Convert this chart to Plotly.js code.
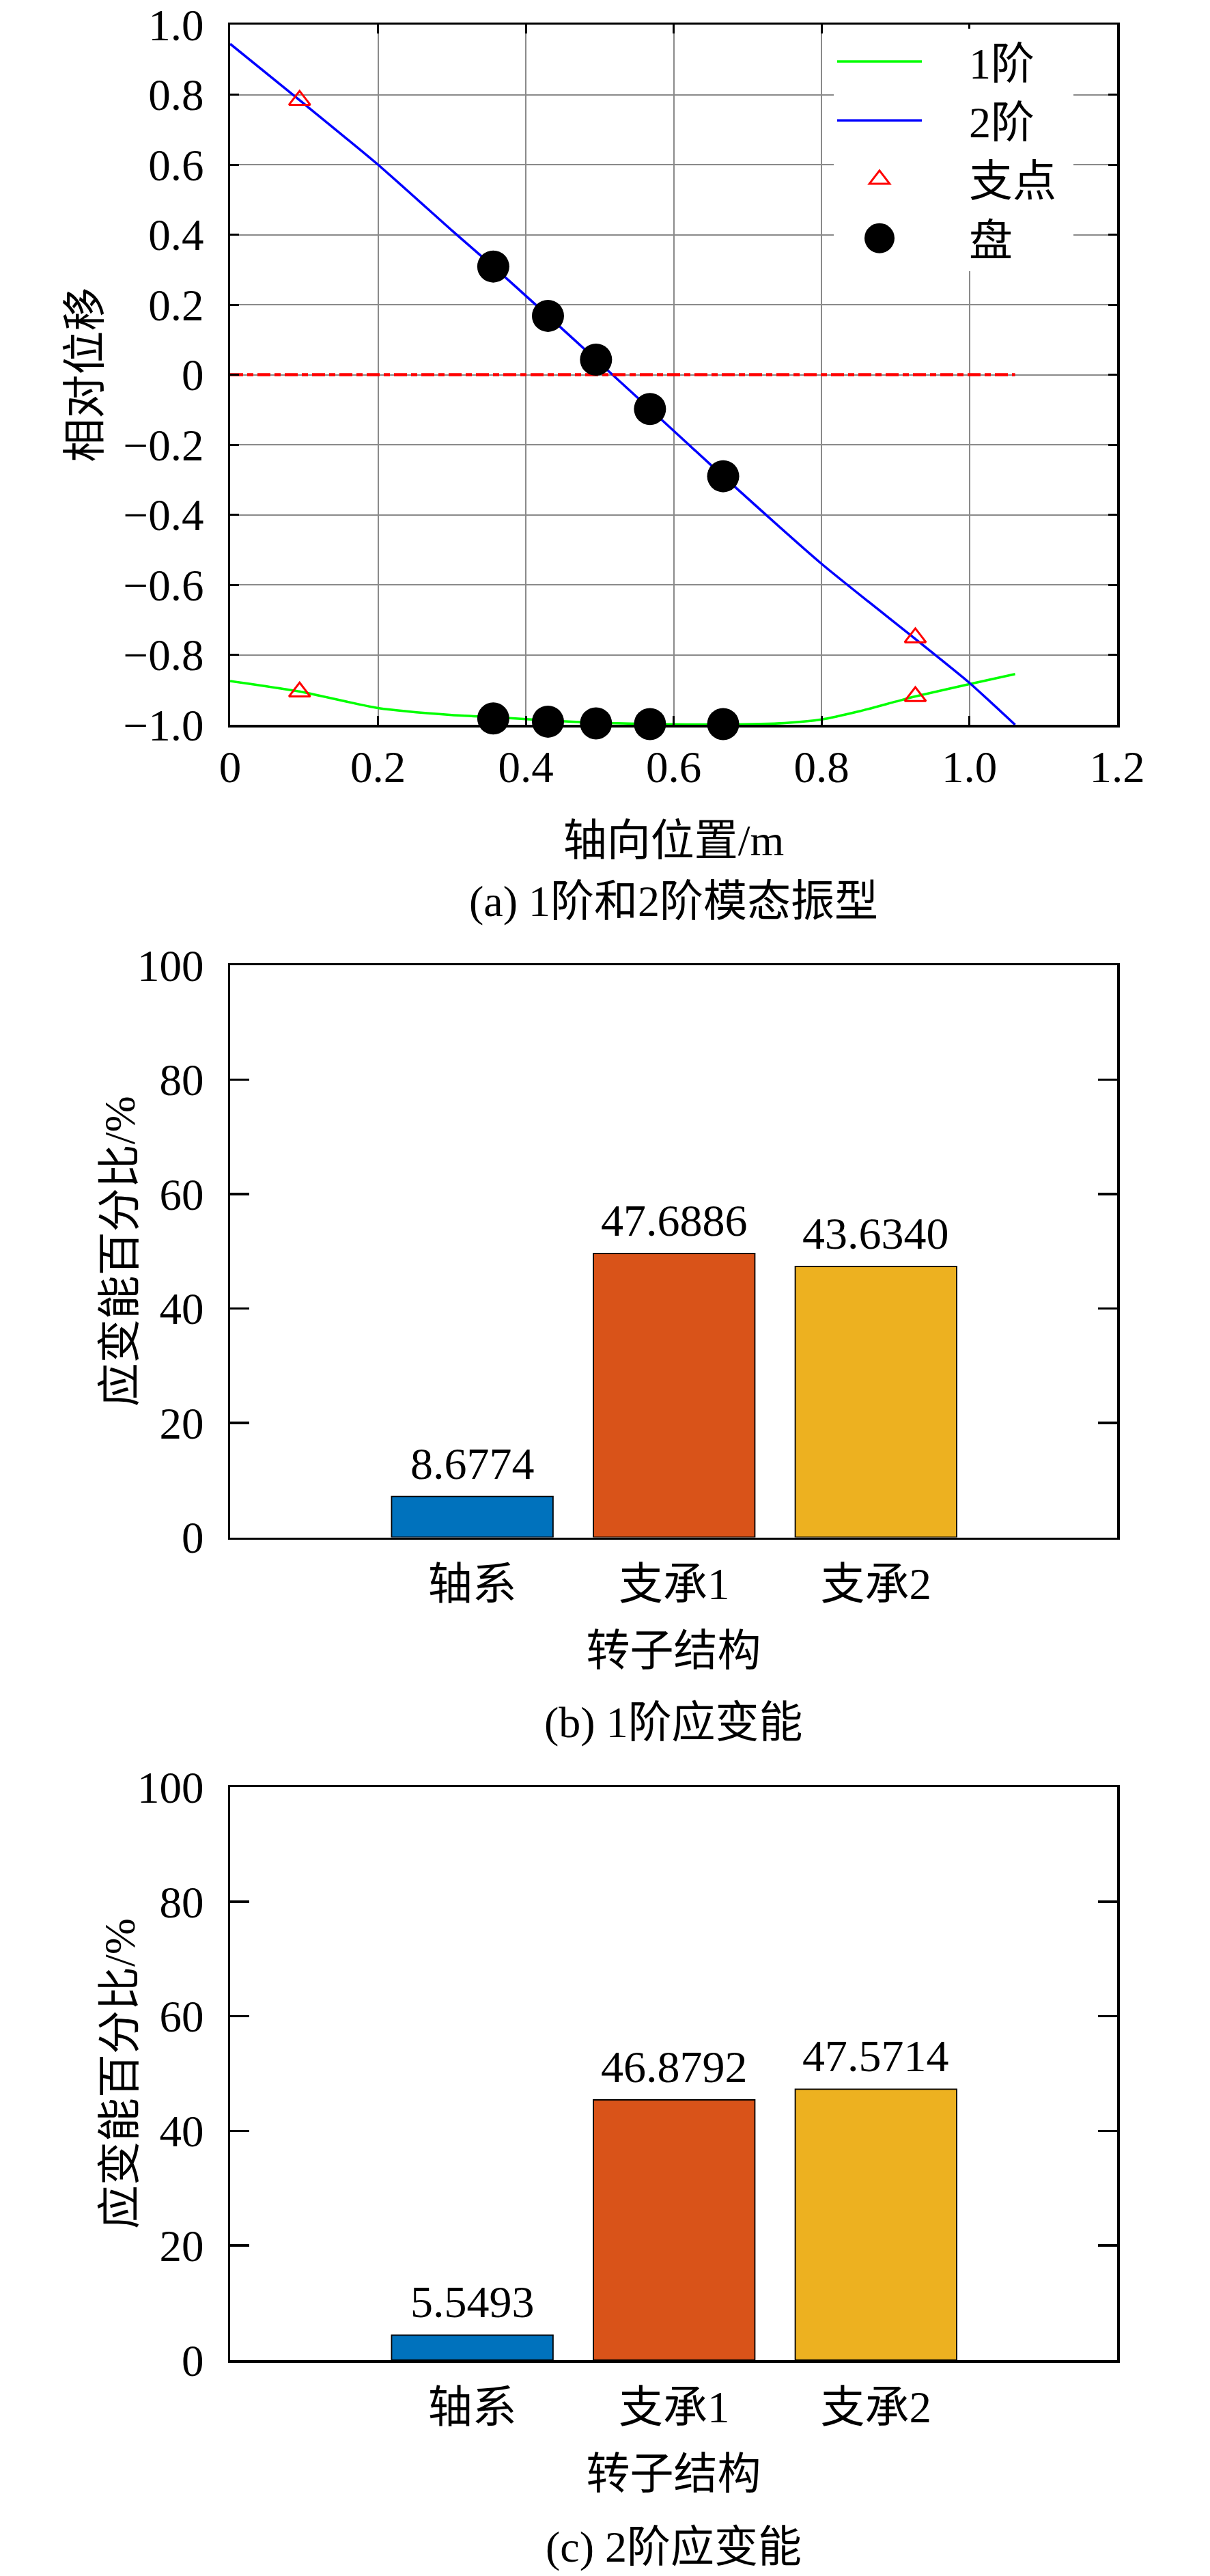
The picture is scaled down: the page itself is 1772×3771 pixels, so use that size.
<!DOCTYPE html>
<html><head><meta charset="utf-8">
<script src="https://cdn.plot.ly/plotly-3.0.1.min.js"></script>
<style>html,body{margin:0;padding:0;background:#fff;} #chart{width:1772px;height:3771px;}</style>
</head><body><div id="chart"></div>
<script>
// ---------- (a) mode shapes ----------
const mode1X = [0, 0.094, 0.2, 0.3, 0.356, 0.43, 0.495, 0.568, 0.667, 0.75, 0.8, 0.85, 0.9, 0.927, 1.0, 1.062];
const mode1Y = [-0.875, -0.905, -0.952, -0.972, -0.978, -0.988, -0.994, -0.998, -0.999, -0.995, -0.985, -0.962, -0.934, -0.919, -0.884, -0.855];
const mode2X = [0, 0.094, 0.2, 0.3, 0.356, 0.43, 0.495, 0.568, 0.667, 0.8, 0.927, 1.0, 1.062];
const mode2Y = [0.945, 0.784, 0.600, 0.412, 0.309, 0.168, 0.043, -0.098, -0.290, -0.540, -0.755, -0.880, -1.000];
const baseX = [0, 1.062];
const baseY = [0, 0];
const supportX = [0.094, 0.927, 0.094, 0.927];
const supportY = [0.784, -0.751, -0.906, -0.919];
const diskX = [0.356, 0.430, 0.495, 0.568, 0.667, 0.356, 0.430, 0.495, 0.568, 0.667];
const diskY = [0.309, 0.168, 0.043, -0.098, -0.290, -0.982, -0.991, -0.996, -0.998, -0.998];
const xTickVals = [0, 0.2, 0.4, 0.6, 0.8, 1.0, 1.2];
const xTickText = ['0', '0.2', '0.4', '0.6', '0.8', '1.0', '1.2'];
const yTickVals = [-1, -0.8, -0.6, -0.4, -0.2, 0, 0.2, 0.4, 0.6, 0.8, 1.0];
const yTickText = ['\u22121.0', '\u22120.8', '\u22120.6', '\u22120.4', '\u22120.2', '0', '0.2', '0.4', '0.6', '0.8', '1.0'];

// ---------- (b) / (c) strain energy ----------
const categories = ['轴系', '支承1', '支承2'];
const energy1 = [7.14, 49.63, 47.36];
const energy1Labels = ['8.6774', '47.6886', '43.6340'];
const energy2 = [4.37, 45.41, 47.28];
const energy2Labels = ['5.5493', '46.8792', '47.5714'];
const barColors = ['#0072BD', '#D95319', '#EDB120'];
const pctTicks = [0, 20, 40, 60, 80, 100];

const FONT = 'Liberation Serif, Times New Roman, Noto Sans CJK SC, serif';
const FS = 65;
const W = 1772, H = 3771;
const px2x = p => p / W;
const px2y = p => 1 - p / H;

const traces = [
  {x: mode1X, y: mode1Y, name: '1阶', mode: 'lines', type: 'scatter', line: {color: '#00ff00', width: 3.5, shape: 'spline', smoothing: 0.6}, xaxis: 'x', yaxis: 'y'},
  {x: mode2X, y: mode2Y, name: '2阶', mode: 'lines', type: 'scatter', line: {color: '#0000ff', width: 3.5, shape: 'spline', smoothing: 0.6}, xaxis: 'x', yaxis: 'y'},
  {x: baseX, y: baseY, name: 'base', mode: 'lines', type: 'scatter', showlegend: false, line: {color: '#ff0000', width: 4.5, dash: '19px,6px,9px,6px'}, xaxis: 'x', yaxis: 'y'},
  {x: supportX, y: supportY, name: '支点', mode: 'markers', type: 'scatter', cliponaxis: false,
   marker: {symbol: 'triangle-up-open', size: 27, color: '#ff0000', line: {color: '#ff0000', width: 3}}, xaxis: 'x', yaxis: 'y'},
  {x: diskX, y: diskY, name: '盘', mode: 'markers', type: 'scatter', cliponaxis: false,
   marker: {symbol: 'circle', size: 47, color: '#000000', line: {width: 0}}, xaxis: 'x', yaxis: 'y'},
  {x: categories, y: energy1, type: 'bar', showlegend: false, width: 0.8,
   marker: {color: barColors, line: {color: '#000', width: 1.8}}, xaxis: 'x2', yaxis: 'y2', hoverinfo: 'none'},
  {x: categories, y: energy2, type: 'bar', showlegend: false, width: 0.8,
   marker: {color: barColors, line: {color: '#000', width: 1.8}}, xaxis: 'x3', yaxis: 'y3', hoverinfo: 'none'}
];

const tickFont = {family: FONT, size: FS, color: '#000'};
const titleFont = {family: FONT, size: 64, color: '#000'};

const dom = [px2x(337), px2x(1636)];

const layout = {
  width: W, height: H,
  margin: {l: 0, r: 0, t: 0, b: 0},
  paper_bgcolor: '#fff', plot_bgcolor: '#fff',
  font: {family: FONT, size: FS, color: '#000'},
  showlegend: true,
  legend: {x: px2x(1221), xanchor: 'left', y: px2y(42), yanchor: 'top', bgcolor: '#fff', borderwidth: 0,
           font: {family: FONT, size: 64, color: '#000'}, itemwidth: 124, tracegroupgap: 0},
  xaxis: {domain: dom, anchor: 'y', range: [0, 1.2], tickvals: xTickVals, ticktext: xTickText,
          ticks: 'inside', ticklen: 13, tickwidth: 3, tickcolor: '#000', showline: true, linewidth: 3.5, linecolor: '#000',
          mirror: 'ticks', showgrid: true, gridcolor: '#8a8a8a', gridwidth: 2, zeroline: false, tickfont: tickFont,
          ticklabelstandoff: 2, title: {text: '轴向位置/m', font: titleFont, standoff: 50}},
  yaxis: {domain: [px2y(1061), px2y(36)], anchor: 'x', range: [-1, 1], tickvals: yTickVals, ticktext: yTickText,
          ticks: 'inside', ticklen: 13, tickwidth: 3, tickcolor: '#000', showline: true, linewidth: 3.5, linecolor: '#000',
          mirror: 'ticks', showgrid: true, gridcolor: '#8a8a8a', gridwidth: 2, zeroline: false, tickfont: tickFont,
          ticklabelstandoff: 22, title: {text: '相对位移', font: titleFont, standoff: 14}},
  xaxis2: {domain: dom, anchor: 'y2', type: 'category', range: [-1.2, 3.195], ticks: '', showline: true, linewidth: 3.5,
           linecolor: '#000', mirror: true, showgrid: false, zeroline: false, tickfont: tickFont, ticklabelstandoff: 9,
           title: {text: '转子结构', font: titleFont, standoff: 40}},
  yaxis2: {domain: [px2y(2250.5), px2y(1413)], anchor: 'x2', range: [0, 100], tickvals: pctTicks,
           ticks: 'inside', ticklen: 28, tickwidth: 3.5, tickcolor: '#000', showline: true, linewidth: 3.5, linecolor: '#000',
           mirror: 'ticks', showgrid: false, zeroline: false, tickfont: tickFont, ticklabelstandoff: 22,
           title: {text: '应变能百分比/%', font: titleFont, standoff: 0}},
  xaxis3: {domain: dom, anchor: 'y3', type: 'category', range: [-1.2, 3.195], ticks: '', showline: true, linewidth: 3.5,
           linecolor: '#000', mirror: true, showgrid: false, zeroline: false, tickfont: tickFont, ticklabelstandoff: 9,
           title: {text: '转子结构', font: titleFont, standoff: 40}},
  yaxis3: {domain: [px2y(3455), px2y(2616)], anchor: 'x3', range: [0, 100], tickvals: pctTicks,
           ticks: 'inside', ticklen: 28, tickwidth: 3.5, tickcolor: '#000', showline: true, linewidth: 3.5, linecolor: '#000',
           mirror: 'ticks', showgrid: false, zeroline: false, tickfont: tickFont, ticklabelstandoff: 22,
           title: {text: '应变能百分比/%', font: titleFont, standoff: 0}},
  annotations: [],
  bargap: 0.2
};

// bar value labels
energy1.forEach((v, i) => layout.annotations.push({x: categories[i], y: v, xref: 'x2', yref: 'y2', text: energy1Labels[i],
  showarrow: false, yanchor: 'bottom', yshift: 10, font: {family: FONT, size: 66, color: '#000'}}));
energy2.forEach((v, i) => layout.annotations.push({x: categories[i], y: v, xref: 'x3', yref: 'y3', text: energy2Labels[i],
  showarrow: false, yanchor: 'bottom', yshift: 10, font: {family: FONT, size: 66, color: '#000'}}));

// captions
const captions = [['(a) 1阶和2阶模态振型', 1320], ['(b) 1阶应变能', 2521], ['(c) 2阶应变能', 3728]];
captions.forEach(c => layout.annotations.push({xref: 'paper', yref: 'paper', x: px2x(986.5), y: px2y(c[1]), text: c[0],
  showarrow: false, xanchor: 'center', yanchor: 'middle', font: {family: FONT, size: 64, color: '#000'}}));

Plotly.newPlot('chart', traces, layout, {displayModeBar: false, staticPlot: true}).then(gd => {
  // y titles of the bar panels sit a little closer to the tick labels
  ['.g-y2title', '.g-y3title'].forEach(sel => {
    const g = gd.querySelector(sel);
    if (g) g.setAttribute('transform', 'translate(17,0)');
  });
  const leg = gd.querySelector('.legend');
  if (!leg) return;
  // enlarge legend markers to match the plotted marker sizes
  leg.querySelectorAll('.traces').forEach(tr => {
    const t = tr.querySelector('text.legendtext');
    if (!t) return;
    const name = t.textContent;
    const k = name === '盘' ? 44 / 16 : (name === '支点' ? 1.6 : 1);
    if (k === 1) return;
    tr.querySelectorAll('.legendpoints path.scatterpts').forEach(p => {
      const tf = p.getAttribute('transform') || '';
      p.setAttribute('transform', tf + ' scale(' + k + ')');
      p.style.vectorEffect = 'non-scaling-stroke';
    });
  });
  // wider gap between legend symbols and their labels
  const shift = 64;
  leg.querySelectorAll('text.legendtext').forEach(t => t.setAttribute('x', (+t.getAttribute('x') || 0) + shift));
  leg.querySelectorAll('rect.bg').forEach(r => r.setAttribute('width', (+r.getAttribute('width')) + shift + 20));
  document.querySelectorAll('clipPath[id*="legend"] rect').forEach(r => r.setAttribute('width', (+r.getAttribute('width')) + shift + 20));
});
</script>
</body></html>
